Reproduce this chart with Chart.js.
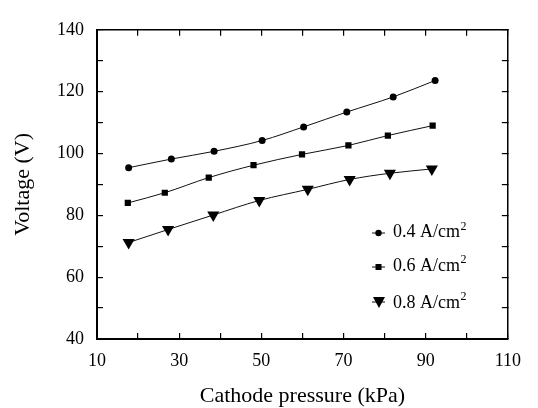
<!DOCTYPE html>
<html>
<head>
<meta charset="utf-8">
<script src="https://cdn.jsdelivr.net/npm/chart.js@4/dist/chart.umd.min.js"></script>
<style>
  body { margin: 0; background: #fff; }
  #wrap { width: 538px; height: 408px; }
</style>
</head>
<body>
<div id="wrap"><canvas id="myChart"></canvas></div>
<script>
'use strict';

// values
let seriesNames = ['0.4 A/cm', '0.6 A/cm', '0.8 A/cm'];
let seriesSup = '2';

let pressure04 = [17.7, 28.1, 38.5, 50.2, 60.3, 70.8, 82.1, 92.3];
let voltage04 = [95.4, 98.2, 100.7, 104.2, 108.6, 113.4, 118.3, 123.6];

let pressure06 = [17.5, 26.5, 37.2, 48.1, 59.9, 71.2, 80.8, 91.7];
let voltage06 = [84.0, 87.3, 92.2, 96.2, 99.7, 102.6, 105.8, 109.0];

let pressure08 = [17.7, 27.3, 38.3, 49.5, 61.3, 71.5, 81.3, 91.5];
let voltage08 = [71.2, 75.4, 80.1, 84.8, 88.4, 91.6, 93.6, 95.0];

let xMin = 10, xMax = 110, xStep = 10;
let yMin = 40, yMax = 140, yStep = 10;

function toPoints(xs, ys) {
  let pts = [];
  for (let i = 0; i < xs.length; i++) {
    pts.push({ x: xs[i], y: ys[i] });
  }
  return pts;
}

const serif = 'Liberation Serif, Times New Roman, serif';

function makeSet(label, pts, style, radius, rotation) {
  return {
    label: label,
    data: pts,
    borderColor: '#111',
    borderWidth: 1,
    backgroundColor: '#000',
    pointBackgroundColor: '#000',
    pointBorderColor: '#000',
    pointBorderWidth: 0,
    pointStyle: style,
    pointRadius: radius,
    pointRotation: rotation,
    cubicInterpolationMode: 'monotone',
    fill: false
  };
}

// little legend inside the plot, drawn by hand
const legendBox = {
  id: 'legendBox',
  afterDraw(chart) {
    const ctx = chart.ctx;
    const rows = [233, 267, 302];
    const textY = [232.5, 266, 303];
    ctx.save();
    for (let i = 0; i < seriesNames.length; i++) {
      let y = rows[i];
      ctx.strokeStyle = '#111';
      ctx.lineWidth = 1;
      ctx.beginPath();
      ctx.moveTo(372, y);
      ctx.lineTo(385, y);
      ctx.stroke();
      ctx.fillStyle = '#000';
      ctx.beginPath();
      if (i === 0) {
        ctx.arc(378.5, y, 3.2, 0, Math.PI * 2);
      } else if (i === 1) {
        ctx.rect(375.5, y - 3, 6, 6);
      } else {
        ctx.moveTo(373, y - 5);
        ctx.lineTo(385, y - 5);
        ctx.lineTo(379, y + 6);
        ctx.closePath();
      }
      ctx.fill();
      ctx.font = '18px ' + serif;
      ctx.textBaseline = 'middle';
      ctx.textAlign = 'left';
      ctx.fillText(seriesNames[i], 393, textY[i]);
      let w = ctx.measureText(seriesNames[i]).width;
      ctx.font = '12px ' + serif;
      ctx.fillText(seriesSup, 393 + w + 0.5, textY[i] - 6);
    }
    ctx.restore();
  }
};

const tickGrid = { drawOnChartArea: false, tickLength: -6, color: '#000', lineWidth: 1.2 };

let ctx = document.getElementById('myChart').getContext('2d');

let myChart = new Chart(ctx, {
  type: 'line',
  data: {
    datasets: [
      makeSet(seriesNames[0] + '²', toPoints(pressure04, voltage04), 'circle', 3.5, 0),
      makeSet(seriesNames[1] + '²', toPoints(pressure06, voltage06), 'rect', 4.4, 0),
      makeSet(seriesNames[2] + '²', toPoints(pressure08, voltage08), 'triangle', 7, 180)
    ]
  },
  options: {
    responsive: true,
    maintainAspectRatio: false,
    animation: false,
    layout: { padding: 0 },
    plugins: {
      legend: { display: false },
      tooltip: { enabled: false }
    },
    scales: {
      x: {
        type: 'linear',
        position: 'bottom',
        min: xMin,
        max: xMax,
        border: { color: '#000', width: 2 },
        grid: tickGrid,
        ticks: {
          stepSize: xStep,
          autoSkip: false,
          maxRotation: 0,
          padding: 17,
          color: '#000',
          font: { family: serif, size: 18 },
          callback: (v) => ((v - xMin) % 20 === 0 ? v : '')
        },
        title: {
          display: true,
          text: 'Cathode pressure (kPa)',
          color: '#000',
          font: { family: serif, size: 22, lineHeight: 1.1 },
          padding: 0
        },
        afterFit(scale) { scale.height = 69; }
      },
      x2: {
        type: 'linear',
        position: 'top',
        min: xMin,
        max: xMax,
        border: { color: '#000', width: 1.5 },
        grid: tickGrid,
        ticks: { stepSize: xStep, display: false },
        afterFit(scale) { scale.height = 20; }
      },
      y: {
        type: 'linear',
        position: 'left',
        min: yMin,
        max: yMax,
        border: { color: '#000', width: 2 },
        grid: tickGrid,
        ticks: {
          stepSize: yStep,
          autoSkip: false,
          padding: 19,
          color: '#000',
          font: { family: serif, size: 18 },
          callback: (v) => (v % 20 === 0 ? v : '')
        },
        title: {
          display: true,
          text: 'Voltage (V)',
          color: '#000',
          font: { family: serif, size: 22, lineHeight: 1.2 },
          padding: { top: 10, bottom: 0 }
        },
        afterFit(scale) { scale.width = 97; }
      },
      y2: {
        type: 'linear',
        position: 'right',
        min: yMin,
        max: yMax,
        border: { color: '#000', width: 1.5 },
        grid: tickGrid,
        ticks: { stepSize: yStep, display: false },
        afterFit(scale) { scale.width = 18; }
      }
    }
  },
  plugins: [legendBox]
});
</script>
</body>
</html>
